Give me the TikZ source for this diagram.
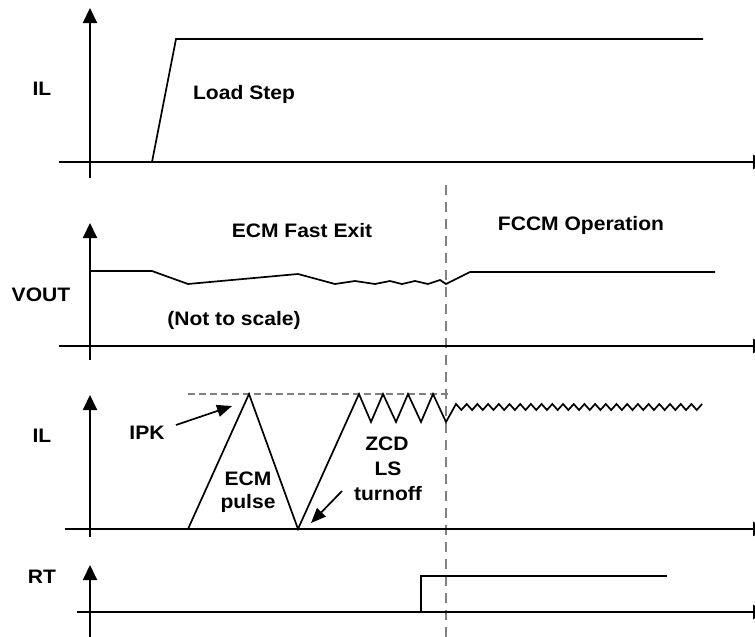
\documentclass[tikz,border=0pt]{standalone}
\usepackage{fontspec}
\setmainfont{Liberation Sans}
\usetikzlibrary{arrows.meta}
\begin{document}
\begin{tikzpicture}[x=1pt,y=-1pt,
  axis/.style={line width=2pt, -{Triangle[length=15pt,width=14pt]}},
  wave/.style={line width=1.7pt, line join=miter},
  guide/.style={gray, line width=1.2pt, dash pattern=on 10pt off 7pt},
  hguide/.style={gray, line width=1.2pt, dash pattern=on 7pt off 4pt},
  lbl/.style={font=\fontsize{19.5}{23}\bfseries\selectfont, inner sep=0pt, anchor=base, xscale=1.08, transform shape},
  note/.style={line width=1.7pt, -{Triangle[length=15pt,width=12pt]}}]
\useasboundingbox (0,0) rectangle (755,637);
\clip (0,0) rectangle (755,637);
% guide lines
\draw[guide] (446,185) -- (446,637);
\draw[hguide] (188,394) -- (450,394);
% axes
\draw[axis] (90,178) -- (90,8);
\draw[axis] (59,162) -- (768,162);
\draw[axis] (90,360) -- (90,223);
\draw[axis] (59,346) -- (768,346);
\draw[axis] (90,537) -- (90,395);
\draw[axis] (65,529) -- (768,529);
\draw[axis] (90,637) -- (90,565);
\draw[axis] (77,612) -- (768,612);
% waveforms
\draw[wave] (152,162) -- (176,39) -- (703,39);
\draw[wave] (90,271) -- (152,271) -- (188,284) -- (298,274) -- (335,284) -- (355,281) -- (375,284) -- (390,281) -- (402,284) -- (415,281) -- (428,284) -- (440,280) -- (446,284) -- (470,272) -- (715,272);
\draw[wave] (188,529) -- (249,394) -- (298,529) -- (359,394) -- (371,422) -- (383,394) -- (396,422) -- (408,394) -- (421,422) -- (433,394) -- (446,422) -- (456,404)
  \foreach \i in {1,...,23} { -- ({456+(\i-0.5)*10.7},410) -- ({456+\i*10.7},404) };
\draw[wave] (421,612) -- (421,576) -- (667,576);
% labels
\node[lbl] (il1) at (42,95) {IL};
\node[lbl] (load) at (244,99) {Load Step};
\node[lbl] (ecmfe) at (302,237) {ECM Fast Exit};
\node[lbl] (fccm) at (581,230) {FCCM Operation};
\node[lbl] (vout) at (41,301) {VOUT};
\node[lbl] (nts) at (234,325) {(Not to scale)};
\node[lbl] (il2) at (42,442) {IL};
\node[lbl] (ipk) at (147,439) {IPK};
\node[lbl] (ecm) at (248,485) {ECM};
\node[lbl] (pulse) at (248,508) {pulse};
\node[lbl] (zcd) at (387,450) {ZCD};
\node[lbl] (ls) at (388,475) {LS};
\node[lbl] (turn) at (388,500) {turnoff};
\node[lbl] (rt) at (42,583) {RT};
% annotation arrows
\coordinate (ipkS) at (176,425);
\coordinate (ipkE) at (232,406);
\draw[note] (ipkS) -- (ipkE);
\coordinate (zcdS) at (342,491);
\coordinate (zcdE) at (311,523);
\draw[note] (zcdS) -- (zcdE);
\end{tikzpicture}
\end{document}
